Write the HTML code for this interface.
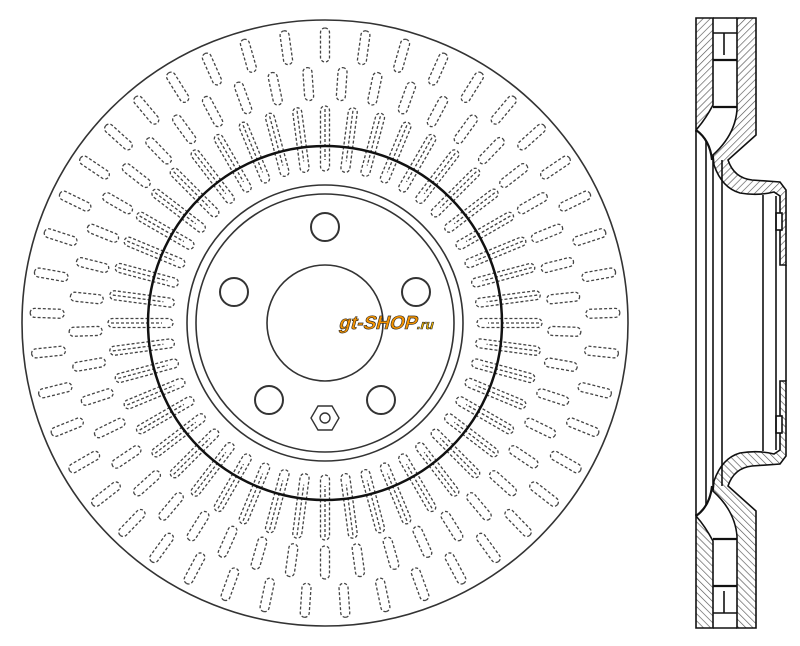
<!DOCTYPE html>
<html><head><meta charset="utf-8"><style>html,body{margin:0;padding:0;background:#fff;width:800px;height:646px;overflow:hidden}</style></head>
<body>
<svg width="800" height="646" viewBox="0 0 800 646" xmlns="http://www.w3.org/2000/svg" xmlns:xlink="http://www.w3.org/1999/xlink">
<defs>
<pattern id="h" width="5" height="5" patternUnits="userSpaceOnUse" patternTransform="rotate(45)">
<rect width="5" height="5" fill="#fff"/><line x1="0" y1="0" x2="0" y2="5" stroke="#555" stroke-width="1.3"/>
</pattern>
<g id="ab">
<rect x="320.5" y="28" width="9" height="34" rx="4.5"/>
<rect x="320.5" y="67" width="9" height="33" rx="4.5" transform="rotate(4 325 323)"/>
</g>
<g id="ab5">
<use xlink:href="#ab"/>
<use xlink:href="#ab" transform="rotate(8 325 323)"/>
<use xlink:href="#ab" transform="rotate(16 325 323)"/>
<use xlink:href="#ab" transform="rotate(24 325 323)"/>
<use xlink:href="#ab" transform="rotate(32 325 323)"/>
</g>
<g id="d">
<rect x="320.5" y="106" width="9" height="65" rx="4.5"/>
<line x1="325" y1="109" x2="325" y2="160"/>
</g>
<g id="d6">
<use xlink:href="#d"/>
<use xlink:href="#d" transform="rotate(7.5 325 323)"/>
<use xlink:href="#d" transform="rotate(15 325 323)"/>
<use xlink:href="#d" transform="rotate(22.5 325 323)"/>
<use xlink:href="#d" transform="rotate(30 325 323)"/>
<use xlink:href="#d" transform="rotate(37.5 325 323)"/>
</g>
</defs>
<g fill="none" stroke="#333">
<circle cx="325" cy="323" r="303" stroke-width="1.6"/>
<g stroke="#444" stroke-width="1.3" stroke-dasharray="3,2">
<use xlink:href="#ab5"/>
<use xlink:href="#ab5" transform="rotate(40 325 323)"/>
<use xlink:href="#ab5" transform="rotate(80 325 323)"/>
<use xlink:href="#ab5" transform="rotate(120 325 323)"/>
<use xlink:href="#ab5" transform="rotate(160 325 323)"/>
<use xlink:href="#ab5" transform="rotate(200 325 323)"/>
<use xlink:href="#ab5" transform="rotate(240 325 323)"/>
<use xlink:href="#ab5" transform="rotate(280 325 323)"/>
<use xlink:href="#ab5" transform="rotate(320 325 323)"/>
<use xlink:href="#d6"/>
<use xlink:href="#d6" transform="rotate(45 325 323)"/>
<use xlink:href="#d6" transform="rotate(90 325 323)"/>
<use xlink:href="#d6" transform="rotate(135 325 323)"/>
<use xlink:href="#d6" transform="rotate(180 325 323)"/>
<use xlink:href="#d6" transform="rotate(225 325 323)"/>
<use xlink:href="#d6" transform="rotate(270 325 323)"/>
<use xlink:href="#d6" transform="rotate(315 325 323)"/>
</g>
<circle cx="325" cy="323" r="177" stroke="#111" stroke-width="2.5"/>
<circle cx="325" cy="323" r="138" stroke-width="1.6" fill="#fff"/>
<circle cx="325" cy="323" r="129" stroke-width="1.6"/>
<circle cx="325" cy="323" r="58" stroke-width="1.6"/>
<circle cx="325" cy="227" r="14" stroke-width="2"/>
<circle cx="234" cy="292" r="14" stroke-width="2"/>
<circle cx="416" cy="292" r="14" stroke-width="2"/>
<circle cx="269" cy="400" r="14" stroke-width="2"/>
<circle cx="381" cy="400" r="14" stroke-width="2"/>
<polygon points="318,406 332,406 339,418 332,430 318,430 311,418" stroke-width="1.4"/>
<circle cx="325" cy="418" r="5" stroke-width="1.4"/>
</g>
<g transform="translate(395,322) skewX(-15)">
<text x="-55" y="7" font-family="Liberation Sans, sans-serif" font-weight="bold" font-size="19" fill="#f39200" stroke="#222" stroke-width="0.6">gt-SHOP<tspan font-size="13" fill="#f5b800">.ru</tspan></text>
</g>
<g stroke="#111" stroke-width="1.6" fill="none">
<g id="half">
<path d="M696,18 H713 V105 Q705,120 696,130 Z" fill="url(#h)"/>
<path d="M737,18 H756 V135 L728,160 Q734,178 752,180 L780,182 L786,190 V265 H780 V196 L774,192 Q758,196 740,193 Q722,188 714,165 L713,155 Q735,135 737,110 Z" fill="url(#h)"/>
<line x1="713" y1="18" x2="737" y2="18"/>
<line x1="713" y1="33" x2="737" y2="33"/>
<line x1="724" y1="33" x2="724" y2="55"/>
<line x1="713" y1="60" x2="737" y2="60" stroke-width="2.2"/>
<line x1="713" y1="107" x2="737" y2="107" stroke-width="2.2"/>
<path d="M696,130 Q710,140 712,160" stroke-width="2.2"/>
<rect x="776" y="213" width="6" height="17" fill="#fff"/>
</g>
<use xlink:href="#half" transform="translate(0,646) scale(1,-1)"/>
<line x1="696" y1="130" x2="696" y2="516"/>
<line x1="706" y1="140" x2="706" y2="506"/>
<line x1="713" y1="158" x2="713" y2="488"/>
<line x1="722" y1="160" x2="722" y2="486"/>
<line x1="763" y1="195" x2="763" y2="451"/>
<line x1="776" y1="196" x2="776" y2="450"/>
<line x1="786" y1="265" x2="786" y2="381"/>
</g>
</svg>
</body></html>
